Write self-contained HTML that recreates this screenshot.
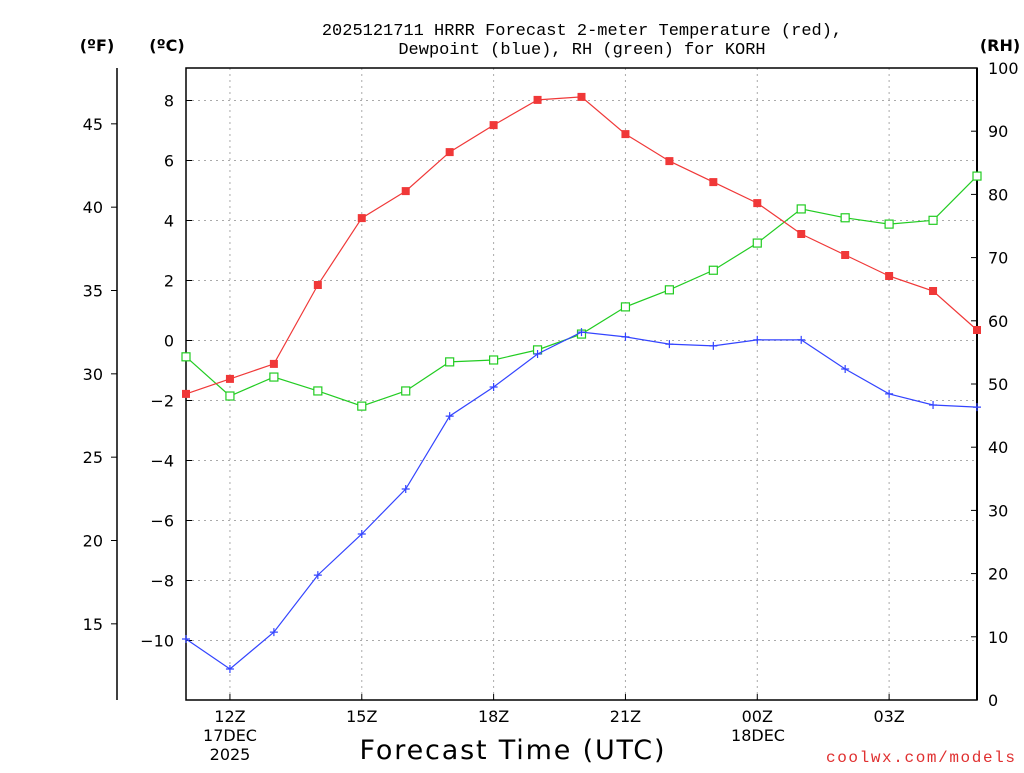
<!DOCTYPE html>
<html><head><meta charset="utf-8"><style>
body{margin:0;background:#fff;width:1024px;height:768px;overflow:hidden}
svg{font-family:"DejaVu Sans","Liberation Sans",sans-serif}
</style></head><body>
<svg id="c" width="1024" height="768" viewBox="0 0 1024 768" xmlns="http://www.w3.org/2000/svg"></svg>
<script>
const hours=[11,12,13,14,15,16,17,18,19,20,21,22,23,24,25,26,27,28,29];
const tempC=[-1.78,-1.28,-0.78,1.85,4.08,4.98,6.28,7.18,8.02,8.12,6.88,5.98,5.28,4.58,3.55,2.85,2.15,1.65,0.35];
const dewC=[-9.95,-10.95,-9.72,-7.82,-6.45,-4.95,-2.52,-1.55,-0.45,0.28,0.12,-0.12,-0.18,0.02,0.02,-0.95,-1.78,-2.15,-2.22];
const rh=[54.3,48.1,51.1,48.9,46.5,48.9,53.5,53.8,55.4,57.9,62.2,64.9,68.0,72.3,77.7,76.3,75.3,75.9,82.9];
const cTicks=[-10,-8,-6,-4,-2,0,2,4,6,8];
const fTicks=[15,20,25,30,35,40,45];
const rhTicks=[0,10,20,30,40,50,60,70,80,90,100];
const xTickHours=[12,15,18,21,24,27];
const xTickLabels=["12Z","15Z","18Z","21Z","00Z","03Z"];

const L=186,R=977,T=68,B=700;
const x=h=>L+(h-11)*(R-L)/18;
const yC=c=>340.5-30.0*c;
const yF=f=>yC((f-32)*5/9);
const yR=r=>B-(B-T)*r/100;
const svg=document.getElementById('c');
const NS="http://www.w3.org/2000/svg";
function mk(tag,at,name,txt){const e=document.createElementNS(NS,tag);for(const k in at)e.setAttribute(k,at[k]);


if(txt!==undefined)e.textContent=txt;svg.appendChild(e);return e;}
const MONO='"Liberation Mono","DejaVu Sans Mono",monospace';

cTicks.forEach(c=>mk('line',{x1:L,x2:R,y1:yC(c),y2:yC(c),stroke:'#aaa','stroke-dasharray':'2,4'},'h-gridline'));
xTickHours.forEach(h=>mk('line',{x1:x(h),x2:x(h),y1:T,y2:B,stroke:'#aaa','stroke-dasharray':'2,4'},'v-gridline'));
mk('rect',{x:L,y:T,width:R-L,height:B-T,fill:'none',stroke:'#000','stroke-width':1.5},'plot-frame');
mk('line',{x1:R,x2:R,y1:T,y2:B,stroke:'#000','stroke-width':2},'rh-axis-line');
mk('line',{x1:117,x2:117,y1:T,y2:B,stroke:'#000','stroke-width':1.5},'f-axis-line');
cTicks.forEach(c=>{mk('line',{x1:L,x2:L+6,y1:yC(c),y2:yC(c),stroke:'#000'},'c-tick');
mk('text',{x:174,y:yC(c)+6,'text-anchor':'end','font-size':16},'c-tick-label',(c<0?'\u2212':'')+Math.abs(c));});
fTicks.forEach(f=>{mk('line',{x1:111,x2:117,y1:yF(f),y2:yF(f),stroke:'#000'},'f-tick');
mk('text',{x:103,y:yF(f)+6,'text-anchor':'end','font-size':16},'f-tick-label',f);});
rhTicks.forEach(r=>{mk('line',{x1:R-6,x2:R,y1:yR(r),y2:yR(r),stroke:'#000'},'rh-tick');
mk('text',{x:988,y:yR(r)+6,'font-size':16},'rh-tick-label',r);});
xTickHours.forEach((h,i)=>{mk('line',{x1:x(h),x2:x(h),y1:B-6,y2:B,stroke:'#000'},'x-tick');
mk('text',{x:x(h),y:722,'text-anchor':'middle','font-size':16},'x-tick-label',xTickLabels[i]);});
mk('text',{x:230,y:741,'text-anchor':'middle','font-size':16},'date-label','17DEC');
mk('text',{x:230,y:760,'text-anchor':'middle','font-size':16},'year-label','2025');
mk('text',{x:758,y:741,'text-anchor':'middle','font-size':16},'date-label-2','18DEC');
mk('text',{x:512,y:759,'text-anchor':'middle','font-size':27,'textLength':305},'x-axis-title','Forecast Time (UTC)');
mk('text',{x:1015,y:762,'text-anchor':'end','font-size':16,fill:'#e03030','font-family':MONO,'textLength':189},'credit','coolwx.com/models');
mk('text',{x:582,y:35,'text-anchor':'middle','font-size':17,'font-family':MONO},'title-line1','2025121711 HRRR Forecast 2-meter Temperature (red),');
mk('text',{x:582,y:54,'text-anchor':'middle','font-size':17,'font-family':MONO},'title-line2','Dewpoint (blue), RH (green) for KORH');
mk('text',{x:97,y:51,'text-anchor':'middle','font-size':16,'font-weight':'bold'},'f-unit','(ºF)');
mk('text',{x:167,y:51,'text-anchor':'middle','font-size':16,'font-weight':'bold'},'c-unit','(ºC)');
mk('text',{x:1000,y:51,'text-anchor':'middle','font-size':16,'font-weight':'bold'},'rh-unit','(RH)');

function series(vals,yf,color,name,marker){
 const pts=vals.map((v,i)=>x(hours[i])+','+yf(v)).join(' ');
 mk('polyline',{points:pts,fill:'none',stroke:color,'stroke-width':1.2},name+'-line');
 vals.forEach((v,i)=>{const px=x(hours[i]),py=yf(v);
  if(marker==='fill')mk('rect',{x:px-4,y:py-4,width:8,height:8,fill:color},name+'-point');
  else if(marker==='open')mk('rect',{x:px-4,y:py-4,width:8,height:8,fill:'#fff',stroke:color,'stroke-width':1.2},name+'-point');
  else mk('path',{d:`M${px-4},${py}H${px+4}M${px},${py-4}V${py+4}`,stroke:color,'stroke-width':1.2},name+'-point');});
}
series(rh,yR,'#22cc22','rh','open');
series(dewC,yC,'#3344ff','dewpoint','plus');
series(tempC,yC,'#f03838','temperature','fill');
</script>
</body></html>
